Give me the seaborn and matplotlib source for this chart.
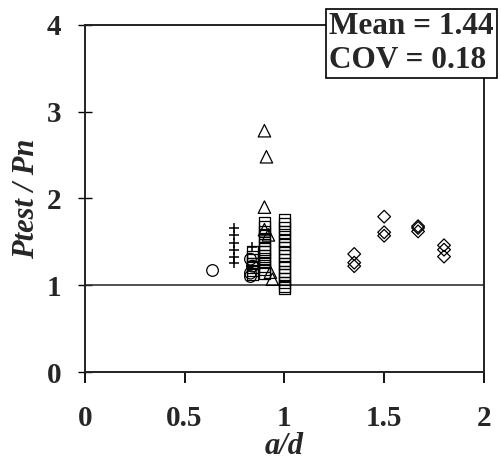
import matplotlib
matplotlib.use("Agg")
import matplotlib.pyplot as plt
import seaborn as sns
import pandas as pd

# ---- data ----
circle_x = [0.64, 0.83, 0.83, 0.84, 0.83]
circle_y = [1.17, 1.10, 1.14, 1.22, 1.30]

plus_x = [0.75, 0.75, 0.75, 0.75, 0.75, 0.75, 0.84]
plus_y = [1.66, 1.58, 1.49, 1.41, 1.33, 1.26, 1.44]

tri_x = [0.90, 0.91, 0.90, 0.90, 0.92, 0.93, 0.94]
tri_y = [2.78, 2.48, 1.90, 1.64, 1.58, 1.15, 1.07]

sq_x = ([0.84] * 7 + [0.90] * 14 + [1.00] * 19)
sq_y = ([1.38, 1.33, 1.29, 1.25, 1.21, 1.17, 1.13]
        + [1.72, 1.67, 1.62, 1.57, 1.52, 1.47, 1.42, 1.38, 1.34, 1.30, 1.26, 1.22, 1.18, 1.14]
        + [1.75, 1.71, 1.66, 1.61, 1.56, 1.51, 1.47, 1.43, 1.38, 1.34, 1.29, 1.25, 1.21,
           1.16, 1.12, 1.07, 1.03, 0.99, 0.97])

dia_x = [1.35, 1.35, 1.35, 1.50, 1.50, 1.50, 1.67, 1.67, 1.67, 1.80, 1.80, 1.80]
dia_y = [1.36, 1.26, 1.22, 1.79, 1.61, 1.57, 1.68, 1.66, 1.62, 1.46, 1.41, 1.33]

x_ticks = [0, 0.5, 1, 1.5, 2]
x_tick_labels = ["0", "0.5", "1", "1.5", "2"]
y_ticks = [0, 1, 2, 3, 4]
y_tick_labels = ["0", "1", "2", "3", "4"]
stats_text = "Mean = 1.44\nCOV = 0.18"

sns.set_style("white")
plt.rcParams["font.family"] = ["Liberation Serif", "DejaVu Serif"]

fig = plt.figure(figsize=(5.02, 4.68), dpi=100)
ax = fig.add_axes([0.169, 0.205, 0.795, 0.742])

ax.axhline(1, color="#333333", lw=1.2, zorder=1)

open_kw = dict(facecolor="none", edgecolor="black", linewidth=0.9, ax=ax, zorder=3)
sns.scatterplot(x=circle_x, y=circle_y, marker="o", s=70, **open_kw)
sns.scatterplot(x=sq_x, y=sq_y, marker="s", s=70, **open_kw)
sns.scatterplot(x=tri_x, y=tri_y, marker="^", s=80, **open_kw)
sns.scatterplot(x=dia_x, y=dia_y, marker="D", s=42, **open_kw)
sns.scatterplot(x=plus_x, y=plus_y, marker="+", s=60, color="black",
                linewidth=1.1, ax=ax, zorder=3)

ax.set_xlim(0, 2)
ax.set_ylim(0, 4)
ax.set_xticks(x_ticks)
ax.set_xticklabels(x_tick_labels)
ax.set_yticks(y_ticks)
ax.set_yticklabels(y_tick_labels)

for lab in ax.get_xticklabels() + ax.get_yticklabels():
    lab.set_fontweight("bold")
    lab.set_fontsize(21)

ax.tick_params(axis="x", direction="out", length=8, width=1.3, pad=16, color="black")
ax.tick_params(axis="y", direction="inout", length=10, width=1.0, pad=12, color="black")
ax.xaxis.set_ticks_position("bottom")
ax.yaxis.set_ticks_position("left")

for sp in ax.spines.values():
    sp.set_color("#222222")
    sp.set_linewidth(1.4)

ax.set_xlabel("a/d", fontsize=22, fontweight="bold", fontstyle="italic", labelpad=0)
ax.set_ylabel("Ptest / Pn", fontsize=22, fontweight="bold", fontstyle="italic", labelpad=4)

fig.text(0.655, 0.907, stats_text, fontsize=22.5, fontweight="bold",
         ha="left", va="center", linespacing=1.2,
         bbox=dict(boxstyle="square,pad=0.1", facecolor="white",
                   edgecolor="black", linewidth=1.2))

fig.savefig("out.png", dpi=100)
